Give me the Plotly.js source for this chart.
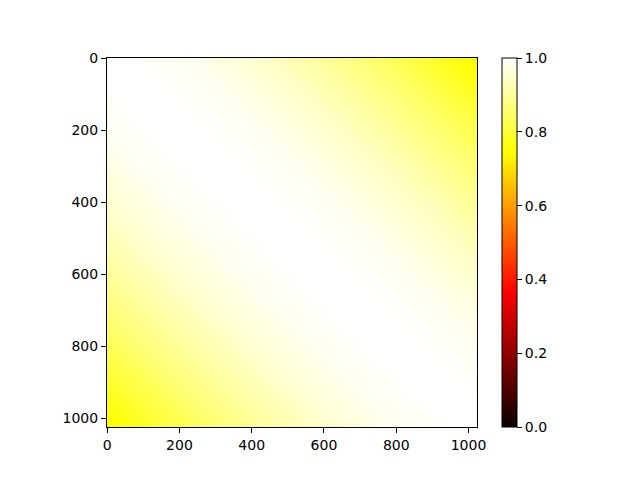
<!DOCTYPE html>
<html>
<head>
<meta charset="utf-8">
<script src="https://cdn.plot.ly/plotly-3.0.1.min.js"></script>
<style>
  body { margin: 0; background: #fff; }
  #graph { width: 640px; height: 480px; }
</style>
</head>
<body>
<div id="graph"></div>
<script>
// Sample positions along each axis (pixel index of the 1024x1024 image)
const positions = [0, 93, 186, 279, 372, 465, 558, 651, 744, 837, 930, 1023];

// Value read from the picture as a function of distance from the diagonal,
// one entry per step in positions
const profile = [1.0, 0.997, 0.990, 0.977, 0.960, 0.938, 0.912, 0.883, 0.850, 0.814, 0.775, 0.732];

// Tick labels
const axisTicks = [0, 200, 400, 600, 800, 1000];
const barTicks = [0, 0.2, 0.4, 0.6, 0.8, 1.0];

// Build the matrix: each cell takes the profile value for its distance to the diagonal
const z = positions.map((_, i) => positions.map((_, j) => profile[Math.abs(i - j)]));

// matplotlib "hot" colormap
const hot = [
    [0, 'rgb(11,0,0)'],
    [0.365079, 'rgb(255,0,0)'],
    [0.746032, 'rgb(255,255,0)'],
    [1, 'rgb(255,255,255)']
];

const tickFont = { family: 'DejaVu Sans', size: 14, color: 'black' };

const trace = {
    type: 'heatmap',
    x: positions,
    y: positions,
    z: z,
    zmin: 0,
    zmax: 1,
    zsmooth: 'best',
    colorscale: hot,
    colorbar: {
        x: 1.0676,
        xanchor: 'left',
        xpad: 0,
        y: 0.5,
        yanchor: 'middle',
        ypad: 0,
        len: 1,
        lenmode: 'fraction',
        thickness: 15,
        outlinewidth: 1,
        outlinecolor: 'black',
        ticks: 'outside',
        ticklen: 5,
        tickcolor: 'black',
        tickvals: barTicks,
        ticktext: barTicks.map(v => v.toFixed(1)),
        tickfont: tickFont
    }
};

const axisStyle = {
    showgrid: false,
    zeroline: false,
    showline: true,
    mirror: true,
    linecolor: 'black',
    linewidth: 1,
    ticks: 'outside',
    ticklen: 5,
    tickcolor: 'black',
    tickvals: axisTicks,
    tickfont: tickFont
};

const layout = {
    width: 640,
    height: 480,
    margin: { l: 107, r: 163, t: 58, b: 53 },
    paper_bgcolor: 'white',
    plot_bgcolor: 'white',
    xaxis: Object.assign({}, axisStyle, { range: [-0.5, 1023.5] }),
    yaxis: Object.assign({}, axisStyle, { range: [1023.5, -0.5] }),
    showlegend: false
};

Plotly.newPlot('graph', [trace], layout, { displayModeBar: false, staticPlot: true });
</script>
</body>
</html>
